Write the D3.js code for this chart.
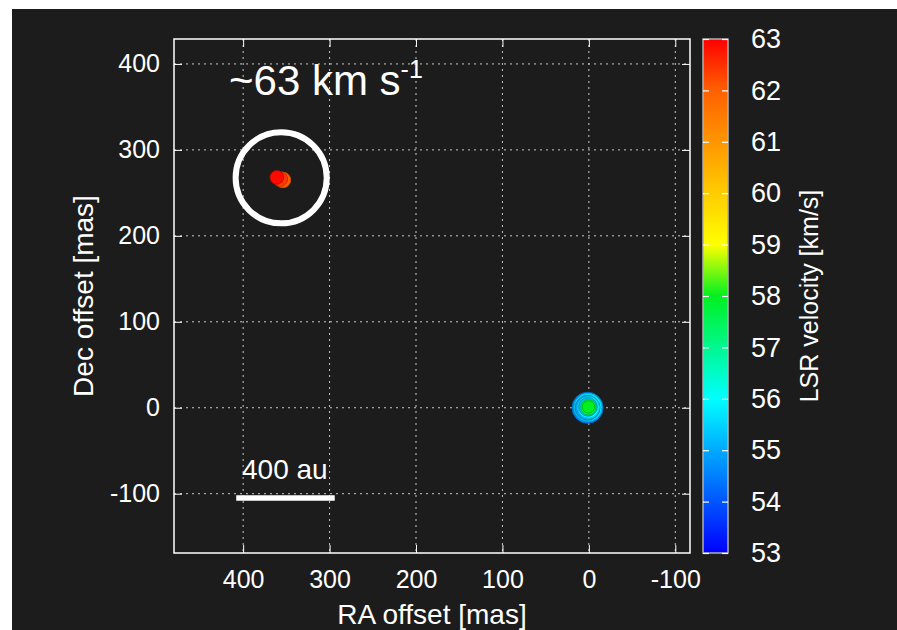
<!DOCTYPE html>
<html>
<head>
<meta charset="utf-8">
<script src="https://cdn.jsdelivr.net/npm/d3@7"></script>
<style>
  html, body { margin: 0; padding: 0; background: #ffffff; }
  svg { display: block; }
  text { font-family: "Liberation Sans", Arial, Helvetica, sans-serif; fill: #ffffff; }
</style>
</head>
<body>
<svg id="chart" width="897" height="630"></svg>
<script>
// Maser spot positions (mas), LSR velocities (km/s) and peak fluxes (arbitrary units)
const spotRA   = [1.5, 1.0, 1.5, 0.5, 1.0, 0.5, 0.5, 354, 357, 361];
const spotDec  = [0.0, 0.5, 0.0, 0.5, 1.0, 0.5, 1.0, 265, 266, 268];
const spotVlsr = [54.6, 55.8, 54.9, 56.0, 55.2, 57.6, 58.0, 62.0, 62.4, 62.9];
const spotFlux = [100, 81, 64, 49, 36, 25, 16, 25, 22, 19];

const xTicks = [400, 300, 200, 100, 0, -100];
const yTicks = [400, 300, 200, 100, 0, -100];
const cbTicks = [53, 54, 55, 56, 57, 58, 59, 60, 61, 62, 63];

const raDomain = [480, -117];
const decDomain = [-169, 429];
const vDomain = [53, 63];

// Palette stops (velocity -> colour)
const paletteV = [53, 56, 58, 59, 60, 61, 62, 63];
const paletteC = ["#0000ff", "#00ffff", "#00f020", "#ffff00", "#ffcc00", "#ff9600", "#ff6000", "#ff0000"];

// Annotation: highlighted group, and scale bar of 400 au
const markRA = 356, markDec = 267.5, markRadiusMas = 52.7;
const scaleBarRA = [408, 294], scaleBarDec = -105;

const svg = d3.select("#chart");
const W = 897, H = 630;

// dark panel
svg.append("rect").attr("x", 12).attr("y", 9).attr("width", W - 12).attr("height", H - 9).attr("fill", "#1c1c1c");

const plot = { left: 174, right: 690, top: 39, bottom: 553 };
const x = d3.scaleLinear().domain(raDomain).range([plot.left, plot.right]);
const y = d3.scaleLinear().domain(decDomain).range([plot.bottom, plot.top]);
const color = d3.scaleLinear().domain(paletteV).range(paletteC).clamp(true);
const r = d3.scaleSqrt().domain([0, 100]).range([0, 15.5]);
const fmt = d => String(d);

const gridColor = "#c8c8c8";

// grid lines
const grid = svg.append("g");
grid.selectAll(".gx").data(xTicks).join("line")
  .attr("x1", d => x(d)).attr("x2", d => x(d))
  .attr("y1", plot.top).attr("y2", plot.bottom)
  .attr("stroke", gridColor).attr("stroke-width", 1).attr("stroke-dasharray", "2,4");
grid.selectAll(".gy").data(yTicks).join("line")
  .attr("y1", d => y(d)).attr("y2", d => y(d))
  .attr("x1", plot.left).attr("x2", plot.right)
  .attr("stroke", gridColor).attr("stroke-width", 1).attr("stroke-dasharray", "2,4");

// axes with inward ticks and no domain path
const tickLen = 8;
const axB = svg.append("g").attr("transform", `translate(0,${plot.bottom})`)
  .call(d3.axisBottom(x).tickValues(xTicks).tickSize(-tickLen).tickPadding(17).tickFormat(fmt));
const axT = svg.append("g").attr("transform", `translate(0,${plot.top})`)
  .call(d3.axisTop(x).tickValues(xTicks).tickSize(-tickLen).tickFormat(""));
const axL = svg.append("g").attr("transform", `translate(${plot.left},0)`)
  .call(d3.axisLeft(y).tickValues(yTicks).tickSize(-tickLen).tickPadding(14).tickFormat(fmt));
const axR = svg.append("g").attr("transform", `translate(${plot.right},0)`)
  .call(d3.axisRight(y).tickValues(yTicks).tickSize(-tickLen).tickFormat(""));
[axB, axT, axL, axR].forEach(g => {
  g.select(".domain").remove();
  g.selectAll(".tick line").attr("stroke", "#ffffff").attr("stroke-width", 1);
  g.selectAll(".tick text").attr("fill", "#ffffff").style("font-size", "25px")
    .style("font-family", "'Liberation Sans', Arial, sans-serif");
});

// frame
svg.append("rect").attr("x", plot.left).attr("y", plot.top)
  .attr("width", plot.right - plot.left).attr("height", plot.bottom - plot.top)
  .attr("fill", "none").attr("stroke", "#ffffff").attr("stroke-width", 1.5);

// maser spots
const spots = spotRA.map((ra, i) => ({ ra, dec: spotDec[i], v: spotVlsr[i], f: spotFlux[i] }));
svg.append("g").selectAll("circle").data(spots).join("circle")
  .attr("cx", d => x(d.ra)).attr("cy", d => y(d.dec)).attr("r", d => r(d.f))
  .attr("fill", d => color(d.v))
  .attr("stroke", d => d3.color(color(d.v)).darker(0.7))
  .attr("stroke-width", 1);

// highlight ring
svg.append("circle")
  .attr("cx", x(markRA)).attr("cy", y(markDec))
  .attr("r", Math.abs(x(markRA + markRadiusMas) - x(markRA)))
  .attr("fill", "none").attr("stroke", "#ffffff").attr("stroke-width", 6);

// velocity label
const lbl = svg.append("text").attr("x", 229).attr("y", 95).style("font-size", "42px");
lbl.append("tspan").text("~63 km s");
lbl.append("tspan").attr("dy", -17).style("font-size", "25px").text("-1");

// scale bar
svg.append("line")
  .attr("x1", x(scaleBarRA[0])).attr("x2", x(scaleBarRA[1]))
  .attr("y1", y(scaleBarDec)).attr("y2", y(scaleBarDec))
  .attr("stroke", "#ffffff").attr("stroke-width", 5.5);
svg.append("text").attr("x", 242).attr("y", 479)
  .style("font-size", "28px").text("400 au");

// axis titles
svg.append("text").attr("x", (plot.left + plot.right) / 2).attr("y", 624)
  .attr("text-anchor", "middle").style("font-size", "28px").text("RA offset [mas]");
svg.append("text").attr("transform", `translate(93,${(plot.top + plot.bottom) / 2}) rotate(-90)`)
  .attr("text-anchor", "middle").style("font-size", "28px").text("Dec offset [mas]");

// colour bar
const cb = { left: 703, right: 728 };
const cy = d3.scaleLinear().domain(vDomain).range([plot.bottom, plot.top]);
const defs = svg.append("defs");
const grad = defs.append("linearGradient").attr("id", "vgrad")
  .attr("x1", 0).attr("y1", 1).attr("x2", 0).attr("y2", 0);
d3.range(0, 101).forEach(i => {
  const v = vDomain[0] + (vDomain[1] - vDomain[0]) * i / 100;
  grad.append("stop").attr("offset", `${i}%`).attr("stop-color", color(v));
});
svg.append("rect").attr("x", cb.left).attr("y", cy(vDomain[1]))
  .attr("width", cb.right - cb.left).attr("height", cy(vDomain[0]) - cy(vDomain[1]))
  .attr("fill", "url(#vgrad)").attr("stroke", "#b0b0b0").attr("stroke-width", 1.5);
const cbAxL = svg.append("g").attr("transform", `translate(${cb.left},0)`)
  .call(d3.axisRight(cy).tickValues(cbTicks).tickSize(6).tickFormat(""));
const cbAxR = svg.append("g").attr("transform", `translate(${cb.right},0)`)
  .call(d3.axisLeft(cy).tickValues(cbTicks).tickSize(6).tickFormat(""));
const cbLab = svg.append("g").attr("transform", `translate(${cb.right},0)`)
  .call(d3.axisRight(cy).tickValues(cbTicks).tickSize(0).tickPadding(23).tickFormat(fmt));
[cbAxL, cbAxR, cbLab].forEach(g => {
  g.select(".domain").remove();
  g.selectAll(".tick line").attr("stroke", "#ffffff").attr("stroke-width", 1.2);
  g.selectAll(".tick text").attr("fill", "#ffffff").style("font-size", "27px")
    .style("font-family", "'Liberation Sans', Arial, sans-serif");
});
cbLab.selectAll(".tick line").remove();
svg.append("text").attr("transform", `translate(818,${(plot.top + plot.bottom) / 2}) rotate(-90)`)
  .attr("text-anchor", "middle").style("font-size", "25px").text("LSR velocity [km/s]");
</script>
</body>
</html>
